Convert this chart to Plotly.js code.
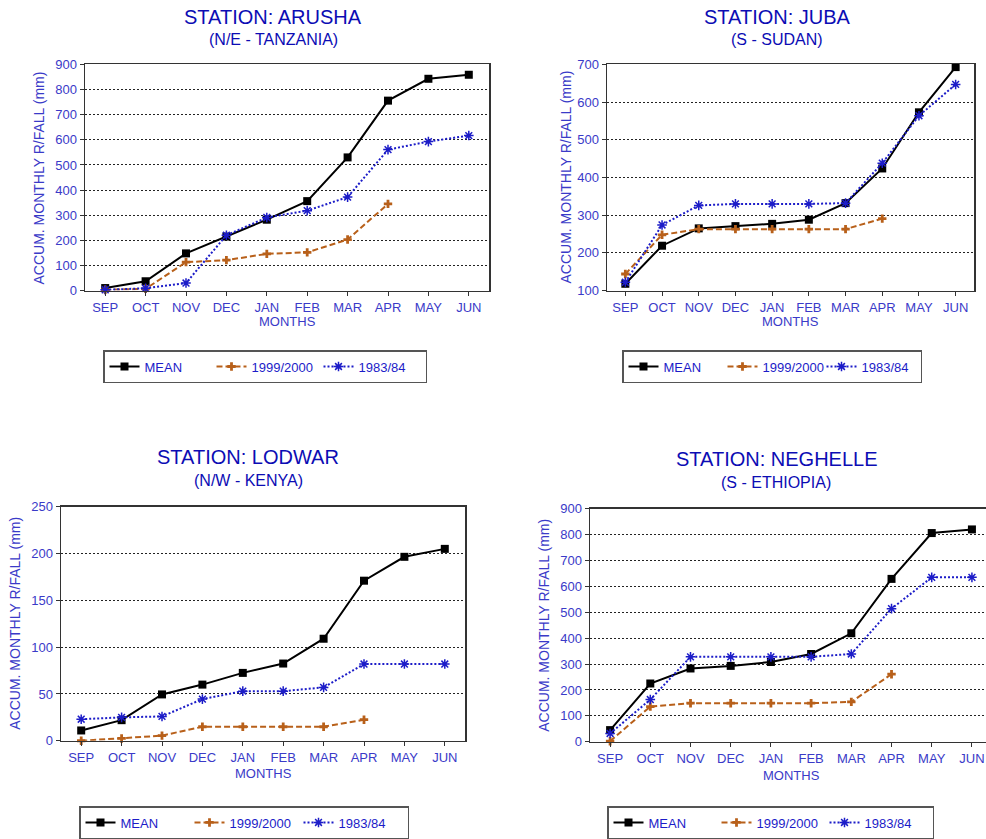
<!DOCTYPE html>
<html>
<head>
<meta charset="utf-8">
<script src="https://cdn.plot.ly/plotly-3.0.1.min.js"></script>
<style>html,body{margin:0;padding:0;background:#fff;}#chart{width:986px;height:839px;}</style>
</head>
<body>
<div id="chart"></div>
<script>
// ---------- DATA ----------
var months = ["SEP","OCT","NOV","DEC","JAN","FEB","MAR","APR","MAY","JUN"];
var seriesNames = ["MEAN","1999/2000","1983/84"];

var stations = ["STATION: ARUSHA","STATION: JUBA","STATION: LODWAR","STATION: NEGHELLE"];
var regions = ["(N/E - TANZANIA)","(S - SUDAN)","(N/W - KENYA)","(S - ETHIOPIA)"];

var arushaMean = [10, 37, 148, 215, 282, 356, 530, 756, 843, 859];
var arusha9900 = [3, 7, 113, 121, 146, 152, 203, 345];
var arusha8384 = [3, 9, 30, 220, 291, 318, 372, 561, 593, 617];

var jubaMean = [118, 219, 265, 271, 277, 288, 332, 424, 573, 693];
var juba9900 = [144, 248, 263, 263, 263, 263, 263, 291];
var juba8384 = [122, 274, 326, 330, 330, 330, 332, 438, 564, 647];

var lodwarMean = [11, 22, 49.5, 60, 72.5, 82.5, 109, 171, 196.5, 205];
var lodwar9900 = [0, 2.5, 5.5, 15, 15, 15, 15, 22.5];
var lodwar8384 = [23, 25, 26, 44.5, 53, 53, 57, 82, 82, 82];

var neghelleMean = [45, 225, 283, 293, 308, 339, 419, 629, 806, 820];
var neghelle9900 = [2, 136, 149, 149, 149, 149, 154, 261];
var neghelle8384 = [32, 163, 328, 328, 328, 328, 339, 514, 635, 635];

var yRanges = [[0, 900], [100, 700], [0, 250], [0, 900]];
var yDtick = [100, 100, 50, 100];

// ---------- STYLE ----------
var W = 986, H = 839;
var titleBlue = "#0c0cb4";
var tickBlue = "#3a3ac8";
var FONT = "Liberation Sans, Arial, sans-serif";
function px(x){ return x / W; }
function py(y){ return 1 - y / H; }

var panels = [
  {x:[85,489], y:[65,293], xr:[-0.5,9.5], data:[arushaMean, arusha9900, arusha8384],
   t:[273,17], s:[273,40], yt:[39,180], xt:[287,324], lg:[103,353], ew:62},
  {x:[607,974], y:[65,293], xr:[-0.5,9.5], data:[jubaMean, juba9900, juba8384],
   t:[777,17], s:[777,40], yt:[566,179], xt:[790,324], lg:[622,353], ew:54},
  {x:[61,465], y:[511,747], xr:[-0.5,9.5], data:[lodwarMean, lodwar9900, lodwar8384],
   t:[248,461], s:[249,485], yt:[15,629], xt:[263,780], lg:[79,813], ew:64},
  {x:[590,986], y:[513,748], xr:[-0.5,9.35], data:[neghelleMean, neghelle9900, neghelle8384],
   t:[777,463], s:[776,487], yt:[544,631], xt:[791,782], lg:[607,813], ew:63}
];

var seriesStyle = [
  {color:"#000000", dash:"solid", symbol:"square", size:8, lw:0},
  {color:"#b8601a", dash:"6px,3px", symbol:"cross", size:7, lw:0},
  {color:"#1c1cc8", dash:"2px,2px", symbol:"asterisk-open", size:8, lw:1.5}
];

var traces = [];
var layout = {
  width: W, height: H, autosize: false,
  margin: {l:0, r:0, t:0, b:0, pad:0},
  paper_bgcolor: "#ffffff", plot_bgcolor: "#ffffff",
  font: {family: FONT, color: tickBlue, size: 13},
  annotations: [], shapes: []
};

panels.forEach(function(p, i){
  var n = i === 0 ? "" : String(i + 1);
  var legName = "legend" + n;
  p.data.forEach(function(vals, k){
    var st = seriesStyle[k];
    traces.push({
      type: "scatter", mode: "lines+markers",
      x: months.slice(0, vals.length), y: vals,
      xaxis: "x" + n, yaxis: "y" + n,
      name: seriesNames[k], legend: legName,
      line: {color: st.color, width: 2, dash: st.dash},
      marker: {symbol: st.symbol, size: st.size, color: st.color,
               line: {color: st.color, width: st.lw}},
      cliponaxis: false
    });
  });
  layout["xaxis" + n] = {
    domain: [px(p.x[0]), px(p.x[1])], anchor: "y" + n,
    type: "category", categoryorder: "array", categoryarray: months,
    range: p.xr, showgrid: false, zeroline: false,
    showline: true, linecolor: "#333", linewidth: 1.5, mirror: true,
    ticks: "outside", ticklen: 4, tickcolor: "#333", tickwidth: 1,
    tickfont: {family: FONT, size: 13, color: tickBlue}, fixedrange: true
  };
  layout["yaxis" + n] = {
    domain: [py(p.y[1]), py(p.y[0])], anchor: "x" + n,
    range: yRanges[i], dtick: yDtick[i], tick0: 0,
    showgrid: true, gridcolor: "#222", gridwidth: 1, griddash: "2px,2px",
    zeroline: false,
    showline: true, linecolor: "#333", linewidth: 1.5, mirror: i === 3 ? false : true,
    ticks: "outside", ticklen: 4, tickcolor: "#333", tickwidth: 1,
    tickfont: {family: FONT, size: 13, color: tickBlue}, fixedrange: true
  };
  layout[legName] = {
    x: px(p.lg[0]), y: py(p.lg[1]), xanchor: "left", yanchor: "top",
    orientation: "h", bgcolor: "#ffffff", bordercolor: "#555", borderwidth: 1.5,
    entrywidth: p.ew, entrywidthmode: "pixels", itemwidth: 30,
    font: {family: FONT, size: 13, color: "#1c1cc8"}, traceorder: "normal"
  };
  layout.annotations.push(
    {text: stations[i], x: px(p.t[0]), y: py(p.t[1]), xref: "paper", yref: "paper",
     xanchor: "center", yanchor: "middle", showarrow: false,
     font: {family: FONT, size: 20, color: titleBlue}},
    {text: regions[i], x: px(p.s[0]), y: py(p.s[1]), xref: "paper", yref: "paper",
     xanchor: "center", yanchor: "middle", showarrow: false,
     font: {family: FONT, size: 16, color: titleBlue}},
    {text: "ACCUM. MONTHLY R/FALL (mm)", x: px(p.yt[0]), y: py(p.yt[1]), xref: "paper", yref: "paper",
     xanchor: "center", yanchor: "middle", showarrow: false, textangle: -90,
     font: {family: FONT, size: 14, color: tickBlue}},
    {text: "MONTHS", x: px(p.xt[0]), y: py(p.xt[1]), xref: "paper", yref: "paper",
     xanchor: "center", yanchor: "middle", showarrow: false,
     font: {family: FONT, size: 13, color: tickBlue}}
  );
});

Plotly.newPlot("chart", traces, layout, {displayModeBar: false, staticPlot: true});
</script>
</body>
</html>
